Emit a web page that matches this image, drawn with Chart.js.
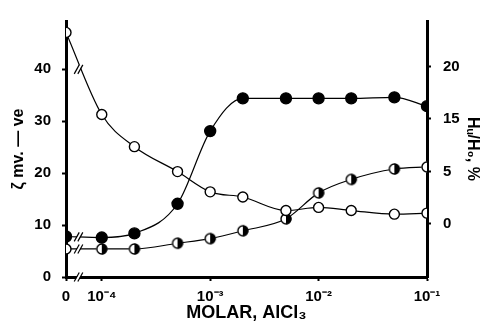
<!DOCTYPE html>
<html><head><meta charset="utf-8">
<script src="https://cdn.jsdelivr.net/npm/chart.js@4"></script>
<style>html,body{margin:0;padding:0;background:#fff}</style>
</head><body>
<canvas id="c" width="484" height="324"></canvas>
<script>
// concentrations (molar AlCl3); 0 = no salt
const molar = [0, 1e-4, 2e-4, 5e-4, 1e-3, 2e-3, 5e-3, 1e-2, 2e-2, 5e-2, 1e-1];
// values read against the left (zeta) axis
const seriesOpen   = [47.1, 31.3, 25.1, 20.3, 16.4, 15.4, 12.8, 13.4, 12.8, 12.1, 12.3];
const seriesFilled = [7.8, 7.6, 8.4, 14.1, 28.1, 34.4, 34.4, 34.4, 34.4, 34.6, 32.9];
const seriesHalf   = [5.4, 5.4, 5.4, 6.5, 7.4, 8.9, 11.2, 16.2, 18.8, 20.8, 21.2];

const xTickValues = [0, 1e-4, 1e-3, 1e-2, 1e-1];
const xTickLabels = ['0', '10⁻⁴', '10⁻³', '10⁻²', '10⁻¹'];
const leftTickValues = [0, 10, 20, 30, 40];
const rightTickLabels = ['0', '5', '15', '20'];

// layout of the broken log axis
const ZERO_POS = -4.33;      // where zero concentration sits on the log10 axis
const LEFT_MAX = 49.3;
const RIGHT_ZERO = 10.23;    // left-axis value of right-axis "0"
const RIGHT_STEP = 10.1;     // left-axis units between right-axis ticks

const toX = m => m === 0 ? ZERO_POS : Math.log10(m);
const pts = arr => arr.map((v, i) => ({x: toX(molar[i]), y: v}));

function halfCircle(r) {
  const s = 2 * r + 3, c = document.createElement('canvas');
  c.width = s; c.height = s;
  const g = c.getContext('2d'), cx = s / 2;
  g.fillStyle = '#fff'; g.beginPath(); g.arc(cx, cx, r, 0, Math.PI * 2); g.fill();
  g.fillStyle = '#000'; g.beginPath(); g.moveTo(cx, cx); g.arc(cx, cx, r, -Math.PI / 2, Math.PI / 2); g.closePath(); g.fill();
  g.strokeStyle = '#000'; g.lineWidth = 1.4; g.beginPath(); g.arc(cx, cx, r - 0.5, 0, Math.PI * 2); g.stroke();
  return c;
}
const halfImg = halfCircle(5.5);

const tickFont = {family: 'Liberation Sans', size: 15, weight: 'bold'};
const titleFont = {family: 'Liberation Sans', size: 16, weight: 'bold', lineHeight: 1.2};

const breakMarks = {
  id: 'breaks',
  afterDatasetsDraw(chart) {
    const ctx = chart.ctx;
    ctx.save();
    const draw = (x, y) => {
      ctx.fillStyle = '#fff';
      ctx.beginPath();
      ctx.moveTo(x - 3.5, y + 4); ctx.lineTo(x + 0.5, y - 4); ctx.lineTo(x + 3.5, y - 4); ctx.lineTo(x - 0.5, y + 4);
      ctx.closePath(); ctx.fill();
      ctx.strokeStyle = '#000'; ctx.lineWidth = 1.2;
      for (const dx of [-1.8, 1.8]) {
        ctx.beginPath(); ctx.moveTo(x + dx - 2.5, y + 4.5); ctx.lineTo(x + dx + 2.5, y - 4.5); ctx.stroke();
      }
    };
    chart.data.datasets.forEach((d, i) => {
      const m = chart.getDatasetMeta(i).data, a = m[0], b = m[1], t = 0.35;
      draw(a.x + (b.x - a.x) * t, a.y + (b.y - a.y) * (i === 0 ? 0.45 : t));
    });
    const xs = chart.scales.x;
    const a = xs.getPixelForValue(ZERO_POS), b = xs.getPixelForValue(toX(1e-4));
    draw(a + (b - a) * 0.35, chart.chartArea.bottom);
    ctx.restore();
  }
};

const common = {borderColor: '#000', borderWidth: 1.2, tension: 0.4, cubicInterpolationMode: 'monotone',
  pointRadius: 5.5, pointBorderWidth: 1.4, pointBorderColor: '#000', fill: false};

new Chart(document.getElementById('c'), {
  type: 'line',
  data: {datasets: [
    Object.assign({label: 'open', data: pts(seriesOpen), pointBackgroundColor: '#fff', pointRadius: 5}, common, {pointRadius: 5}),
    Object.assign({label: 'filled', data: pts(seriesFilled), pointBackgroundColor: '#000'}, common),
    Object.assign({label: 'half', data: pts(seriesHalf), pointBackgroundColor: '#fff'}, common,
      {pointStyle: seriesHalf.map((v, i) => i === 0 ? 'circle' : halfImg), pointRadius: 5})
  ]},
  options: {
    responsive: false, animation: false,
    layout: {padding: {top: 12, left: 0, right: 0, bottom: 0}},
    plugins: {legend: {display: false}, tooltip: {enabled: false}},
    scales: {
      x: {type: 'linear', min: ZERO_POS, max: toX(1e-1),
        afterBuildTicks: s => { s.ticks = xTickValues.map(v => ({value: toX(v)})); },
        afterFit: s => { s.height = 47; },
        ticks: {callback: (v, i) => xTickLabels[i], autoSkip: false, maxRotation: 0, padding: 7, color: '#000', font: tickFont},
        grid: {drawOnChartArea: false, drawTicks: true, tickLength: 4, tickWidth: 2, color: '#000'},
        border: {display: true, width: 3, color: '#000'},
        title: {display: true, text: 'MOLAR, AlCl₃', color: '#000', font: {family: 'Liberation Sans', size: 18, weight: 'bold', lineHeight: 1.2}, padding: {top: 0, bottom: 0}}
      },
      y: {type: 'linear', position: 'left', min: 0, max: LEFT_MAX,
        afterBuildTicks: s => { s.ticks = leftTickValues.map(v => ({value: v})); },
        afterFit: s => { s.width = 66; },
        ticks: {color: '#000', font: tickFont, padding: 11},
        grid: {drawOnChartArea: false, drawTicks: true, tickLength: 4, tickWidth: 2, color: '#000'},
        border: {display: true, width: 3, color: '#000'},
        title: {display: true, text: 'ζ mv. — ve', color: '#000', font: titleFont, padding: {top: 9, bottom: 0}}
      },
      y2: {type: 'linear', position: 'right', min: (0 - RIGHT_ZERO) / RIGHT_STEP, max: (LEFT_MAX - RIGHT_ZERO) / RIGHT_STEP,
        afterBuildTicks: s => { s.ticks = rightTickLabels.map((l, i) => ({value: i})); },
        afterFit: s => { s.width = 57; },
        ticks: {callback: (v, i) => rightTickLabels[i], color: '#000', font: tickFont, padding: 12},
        grid: {drawOnChartArea: false, drawTicks: true, tickLength: 4, tickWidth: 2, color: '#000'},
        border: {display: true, width: 3, color: '#000'},
        title: {display: true, text: 'Hᵤ/H₀, %', color: '#000', font: titleFont, padding: {top: 2, bottom: 0}}
      }
    }
  },
  plugins: [breakMarks]
});
</script>
</body></html>
